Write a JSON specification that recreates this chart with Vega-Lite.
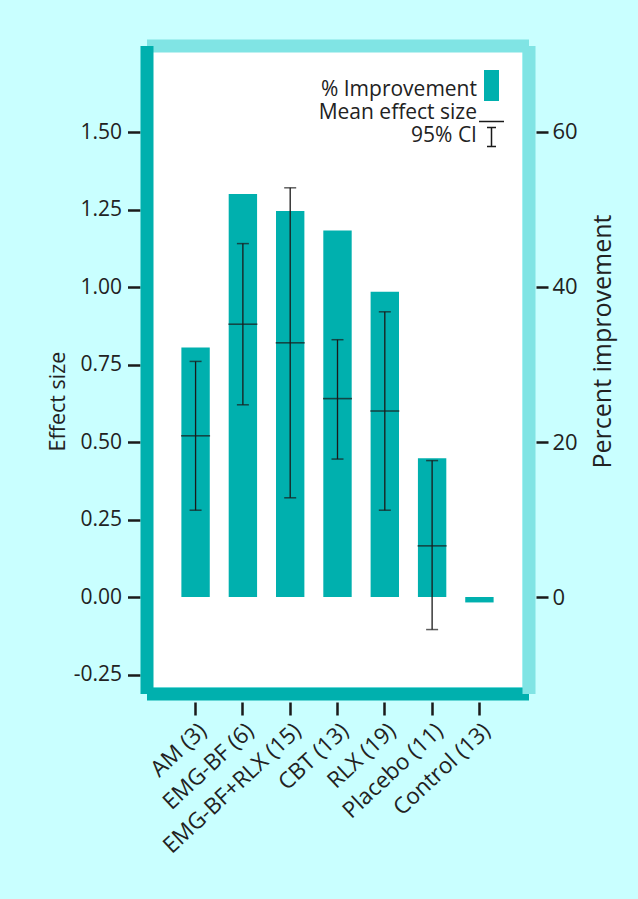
{
  "$schema": "https://vega.github.io/schema/vega-lite/v6.json",
  "width": 369,
  "height": 635,
  "autosize": {"type": "none"},
  "padding": {"left": 153, "top": 52, "right": 116, "bottom": 212},
  "background": "#c9ffff",
  "view": {"fill": "white", "stroke": null},
  "config": {
    "font": "Open Sans",
    "axis": {"labelFont": "Open Sans", "titleFont": "Open Sans", "labelFontSize": 21, "titleFontSize": 21, "titleFontWeight": "normal", "labelColor": "#222", "titleColor": "#222", "grid": false},
    "legend": {"labelFont": "Open Sans", "labelFontSize": 21, "labelColor": "#222"}
  },
  "data": {"values": [
    {"group": "AM (3)", "pct": 32.2, "mean": 0.52, "lo": 0.28, "hi": 0.76},
    {"group": "EMG-BF (6)", "pct": 52.0, "mean": 0.88, "lo": 0.62, "hi": 1.14},
    {"group": "EMG-BF+RLX (15)", "pct": 49.8, "mean": 0.82, "lo": 0.32, "hi": 1.32},
    {"group": "CBT (13)", "pct": 47.3, "mean": 0.64, "lo": 0.445, "hi": 0.83},
    {"group": "RLX (19)", "pct": 39.4, "mean": 0.6, "lo": 0.28, "hi": 0.92},
    {"group": "Placebo (11)", "pct": 17.9, "mean": 0.165, "lo": -0.105, "hi": 0.44},
    {"group": "Control (13)", "pct": -0.7, "mean": null, "lo": null, "hi": null}
  ]},
  "resolve": {"scale": {"y": "independent"}, "axis": {"x": "independent"}},
  "layer": [
    {
      "mark": {"type": "bar", "color": "#00b0ae"},
      "encoding": {
        "x": {"field": "group", "type": "nominal", "sort": null,
          "scale": {"paddingInner": 0.4, "paddingOuter": 0.6},
          "axis": {"orient": "bottom", "title": null, "offset": 6.5, "domainColor": "#00b0ae", "domainWidth": 13, "domainCap": "square",
            "tickColor": "#1a1a1a", "tickWidth": 2.5, "tickSize": 21.5, "tickDash": [0, 8.5, 13, 60], "labelAngle": -43, "labelPadding": 4, "labelFontSize": 22.5}},
        "y": {"field": "pct", "type": "quantitative",
          "scale": {"domain": [-11.61, 70.32], "nice": false, "zero": false},
          "axis": {"orient": "right", "title": "Percent improvement", "titleAngle": 270, "titleBaseline": "top", "titleFontSize": 25, "titleY": 289, "titlePadding": 13,
            "values": [0, 20, 40, 60], "format": "d", "offset": 6.5,
            "domainColor": "#80e4e4", "domainWidth": 13, "domainCap": "square",
            "tickColor": "#1a1a1a", "tickWidth": 2.5, "tickSize": 19.5, "tickDash": [0, 7.5, 12, 60], "labelPadding": 4, "labelFontSize": 22}}
      }
    },
    {
      "layer": [
        {
          "mark": {"type": "rule", "color": "#333", "strokeWidth": 1},
          "encoding": {
            "x": {"field": "group", "type": "nominal", "sort": null,
              "axis": {"orient": "top", "title": null, "labels": false, "ticks": false, "offset": 6.5, "domainColor": "#80e4e4", "domainWidth": 13, "domainCap": "square"}},
            "y": {"datum": 0, "type": "quantitative",
              "scale": {"domain": [-0.2903, 1.7581], "nice": false, "zero": false},
              "axis": {"orient": "left", "title": "Effect size", "titleY": 349, "titleFontSize": 21.5, "values": [-0.25, 0, 0.25, 0.5, 0.75, 1, 1.25, 1.5], "format": ".2f",
                "labelExpr": "replace(datum.label, '\u2212', '-')", "offset": 6.5,
                "domainColor": "#00b0ae", "domainWidth": 13, "domainCap": "square",
                "tickColor": "#1a1a1a", "tickWidth": 2.5, "tickSize": 19, "tickDash": [0, 6.5, 12.5, 60], "labelPadding": 6}}
          }
        },
        {
          "mark": {"type": "rule", "strokeWidth": 1.3},
          "encoding": {
            "x": {"field": "group", "type": "nominal", "sort": null},
            "y": {"field": "lo", "type": "quantitative"},
            "y2": {"field": "hi"},
            "color": {"datum": "95% CI",
              "scale": {"domain": ["% Improvement", "Mean effect size", "95% CI"], "range": ["#00b0ae", "#1a1a1a", "#1a1a1a"]},
              "legend": {"orient": "none", "legendX": 328, "legendY": 27.5, "title": null, "padding": 0, "rowPadding": 0,
                "symbolSize": 100, "labelAlign": "right", "labelOffset": -25, "labelLimit": 400,
                "symbolType": {"expr": "datum.value === '% Improvement' ? 'M-1.5,-4H1.5V2.2H-1.5Z' : datum.value === 'Mean effect size' ? 'M-2.5,1.7H2.5' : 'M-0.9,-1.7H0.9M0,-1.7V2.1M-0.9,2.1H0.9'"},
                "symbolFillColor": {"expr": "datum.value === '% Improvement' ? '#00b0ae' : 'transparent'"},
                "symbolStrokeWidth": {"expr": "datum.value === '% Improvement' ? 0 : 1.5"}}}
          }
        },
        {
          "mark": {"type": "tick", "orient": "horizontal", "size": 12, "thickness": 1.5, "color": "#1a1a1a"},
          "encoding": {
            "x": {"field": "group", "type": "nominal", "sort": null},
            "y": {"field": "lo", "type": "quantitative"}
          }
        },
        {
          "mark": {"type": "tick", "orient": "horizontal", "size": 12, "thickness": 1.5, "color": "#1a1a1a"},
          "encoding": {
            "x": {"field": "group", "type": "nominal", "sort": null},
            "y": {"field": "hi", "type": "quantitative"}
          }
        },
        {
          "mark": {"type": "tick", "orient": "horizontal", "size": 29, "thickness": 1.6, "color": "#1a1a1a"},
          "encoding": {
            "x": {"field": "group", "type": "nominal", "sort": null},
            "y": {"field": "mean", "type": "quantitative"}
          }
        }
      ]
    }
  ]
}
